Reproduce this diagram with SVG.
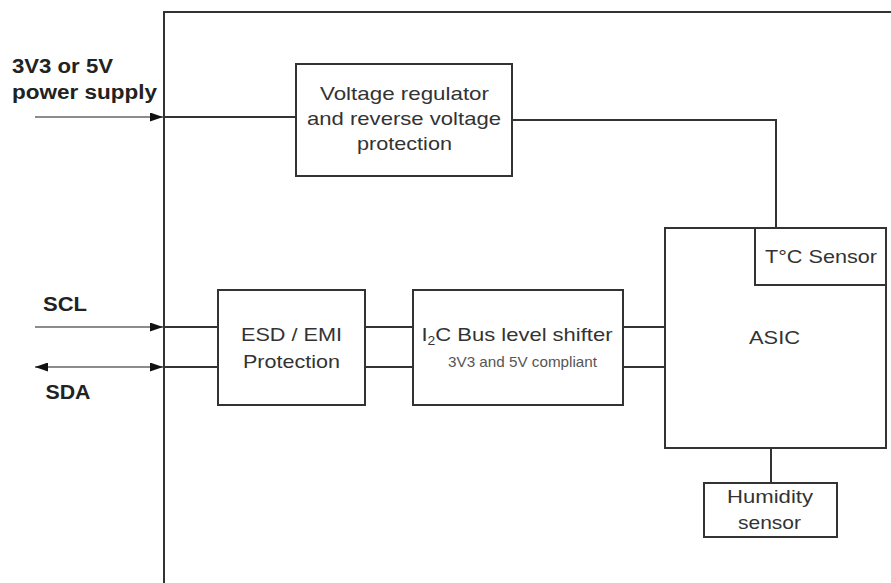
<svg xmlns="http://www.w3.org/2000/svg" width="891" height="583" viewBox="0 0 891 583">
<style>
.box{fill:#fff;stroke:#333;stroke-width:2}
.w{fill:none;stroke:#333;stroke-width:2}
.in{fill:none;stroke:#666;stroke-width:1.4}
.t{font-family:"Liberation Sans",Arial,sans-serif;font-size:19px;fill:#333}
.b{font-family:"Liberation Sans",Arial,sans-serif;font-size:20px;font-weight:bold;fill:#222}
.s{font-family:"Liberation Sans",Arial,sans-serif;font-size:14.5px;fill:#555}
</style>
<defs>
<marker id="ah" markerWidth="13" markerHeight="9" refX="13" refY="4.5" orient="auto-start-reverse" markerUnits="userSpaceOnUse">
<path d="M0,0 L13,4.5 L0,9 z" fill="#111"/>
</marker>
</defs>
<g id="frame">
<path class="w" d="M164,583 V12 H891"/>
</g>
<g id="connectors">
<line class="in" x1="35" y1="117" x2="163" y2="117" marker-end="url(#ah)"/>
<line class="w" x1="164" y1="117" x2="296" y2="117"/>
<path class="w" d="M512,120 H776 V228"/>
<line class="in" x1="35" y1="327" x2="163" y2="327" marker-end="url(#ah)"/>
<line class="in" x1="35" y1="367" x2="163" y2="367" marker-start="url(#ah)" marker-end="url(#ah)"/>
<line class="w" x1="164" y1="327" x2="218" y2="327"/>
<line class="w" x1="164" y1="367" x2="218" y2="367"/>
<line class="w" x1="365" y1="327" x2="413" y2="327"/>
<line class="w" x1="365" y1="367" x2="413" y2="367"/>
<line class="w" x1="623" y1="327" x2="665" y2="327"/>
<line class="w" x1="623" y1="367" x2="665" y2="367"/>
<line class="w" x1="771" y1="448" x2="771" y2="483"/>
</g>
<g id="labels">
<text class="b" x="12" y="73" textLength="101" lengthAdjust="spacingAndGlyphs">3V3 or 5V</text>
<text class="b" x="12" y="99" textLength="145" lengthAdjust="spacingAndGlyphs">power supply</text>
<text class="b" x="43" y="311" textLength="44" lengthAdjust="spacingAndGlyphs">SCL</text>
<text class="b" x="45.5" y="399" textLength="45" lengthAdjust="spacingAndGlyphs">SDA</text>
</g>
<g id="regulator">
<rect class="box" x="296" y="64" width="216" height="112"/>
<text class="t" x="320" y="100" textLength="169" lengthAdjust="spacingAndGlyphs">Voltage regulator</text>
<text class="t" x="307" y="125" textLength="194" lengthAdjust="spacingAndGlyphs">and reverse voltage</text>
<text class="t" x="357" y="150" textLength="95" lengthAdjust="spacingAndGlyphs">protection</text>
</g>
<g id="esd">
<rect class="box" x="218" y="290" width="147" height="115"/>
<text class="t" x="241" y="341" textLength="101" lengthAdjust="spacingAndGlyphs">ESD / EMI</text>
<text class="t" x="243" y="368" textLength="97" lengthAdjust="spacingAndGlyphs">Protection</text>
</g>
<g id="shifter">
<rect class="box" x="413" y="290" width="210" height="115"/>
<text class="t" x="421.5" y="341" fill="#222" textLength="191" lengthAdjust="spacingAndGlyphs">I<tspan font-size="12" dy="4">2</tspan><tspan dy="-4">C Bus level shifter</tspan></text>
<text class="s" x="448" y="367" textLength="149" lengthAdjust="spacingAndGlyphs">3V3 and 5V compliant</text>
</g>
<g id="asic">
<rect class="box" x="665" y="228" width="221" height="220"/>
<text class="t" x="749" y="344" textLength="51" lengthAdjust="spacingAndGlyphs">ASIC</text>
</g>
<g id="tsensor">
<rect class="box" x="755" y="228" width="131" height="57"/>
<text class="t" x="765" y="262.5" textLength="112" lengthAdjust="spacingAndGlyphs">T°C Sensor</text>
</g>
<g id="humidity">
<rect class="box" x="704" y="483" width="133" height="54"/>
<text class="t" x="727" y="503" textLength="86" lengthAdjust="spacingAndGlyphs">Humidity</text>
<text class="t" x="738" y="529" textLength="63" lengthAdjust="spacingAndGlyphs">sensor</text>
</g>
</svg>
